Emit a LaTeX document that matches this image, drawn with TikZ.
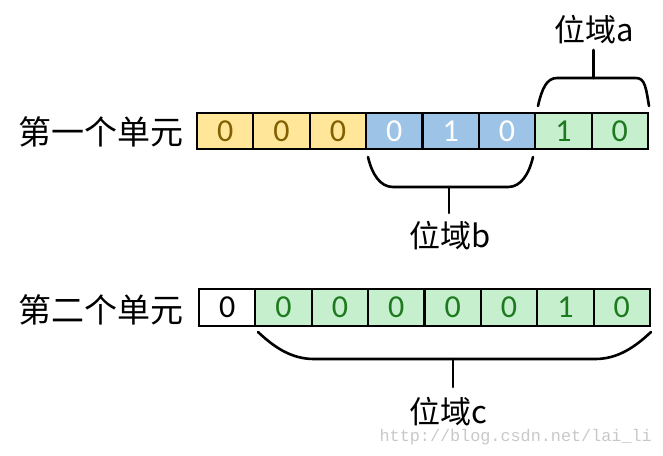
\documentclass[tikz,border=0pt]{standalone}
\usepackage{fontspec}
\setmainfont{Carlito}
\newfontfamily\cjk{Noto Sans CJK SC}
\newfontfamily\wmfont{Liberation Mono}
\definecolor{yfill}{HTML}{FFE699}
\definecolor{ytext}{HTML}{806000}
\definecolor{bfill}{HTML}{9DC3E6}
\definecolor{gfill}{HTML}{C6EFCE}
\definecolor{gtext}{HTML}{1E7A1E}
\definecolor{wm}{HTML}{C8C8C8}
\tikzset{
  cell/.style={draw=black, line width=2.2pt, minimum width=56.375pt, minimum height=36.5pt,
    inner sep=0pt, font=\fontsize{32}{32}\selectfont},
  ycell/.style={cell, fill=yfill, text=ytext},
  bcell/.style={cell, fill=bfill, text=white},
  gcell/.style={cell, fill=gfill, text=gtext},
  wcell/.style={cell, fill=white, text=black},
  rowlabel/.style={font=\cjk\fontsize{33}{33}\selectfont, inner sep=0pt},
  fieldlabel/.style={font=\cjk\fontsize{31}{31}\selectfont, inner sep=0pt},
  bracepath/.style={draw=black, line width=2.6pt, line cap=round, line join=round},
}
\begin{document}
\begin{tikzpicture}[x=1pt,y=-1pt]
\useasboundingbox (0,0) rectangle (663,455);
% row 1
\foreach \i/\s/\d in {0/ycell/0,1/ycell/0,2/ycell/0,3/bcell/0,4/bcell/1,5/bcell/0,6/gcell/1,7/gcell/0}{
  \node[\s] (r1c\i) at ({197+56.375*(\i+0.5)},131) {\d};
}
% row 2
\foreach \i/\s/\d in {0/wcell/0,1/gcell/0,2/gcell/0,3/gcell/0,4/gcell/0,5/gcell/0,6/gcell/1,7/gcell/0}{
  \node[\s] (r2c\i) at ({199+56.375*(\i+0.5)},307.5) {\d};
}
\node[rowlabel] (l1) at (101,132) {第一个单元};
\node[rowlabel] (l2) at (101,310) {第二个单元};
% brace a
\coordinate (a1) at (538,106);
\coordinate (a2) at (649,106);
\coordinate (am) at (593.5,78);
\coordinate (at) at (593.5,50);
\draw[bracepath] (a1) .. controls (542,88) and (547,78) .. (557,78) -- (636,78)
  .. controls (645,78) and (646,88) .. (a2);
\draw[bracepath] (am) -- (at);
\node[fieldlabel] (fa) at (594,30) {位域a};
% brace b
\coordinate (b1) at (368,157);
\coordinate (b2) at (533,157);
\coordinate (bm) at (449,187);
\coordinate (bt) at (449,213);
\draw[bracepath] (b1) .. controls (372,174) and (380,187) .. (393,187) -- (508,187)
  .. controls (521,187) and (529,174) .. (b2);
\draw[bracepath] (bm) -- (bt);
\node[fieldlabel] (fb) at (450,236) {位域b};
% brace c
\coordinate (c1) at (258,332);
\coordinate (c2) at (651,332);
\coordinate (cm) at (453,359);
\coordinate (ct) at (453,387);
\draw[bracepath] (c1) .. controls (275,348) and (292,359) .. (314,359) -- (595,359)
  .. controls (617,359) and (634,348) .. (c2);
\draw[bracepath] (cm) -- (ct);
\node[fieldlabel] (fc) at (448,412) {位域c};
% watermark
\node[font=\wmfont\fontsize{16.8}{16.8}\selectfont, text=wm, inner sep=0pt, anchor=east] (wmk) at (652,437) {http://blog.csdn.net/lai\_li};
\end{tikzpicture}
\end{document}
